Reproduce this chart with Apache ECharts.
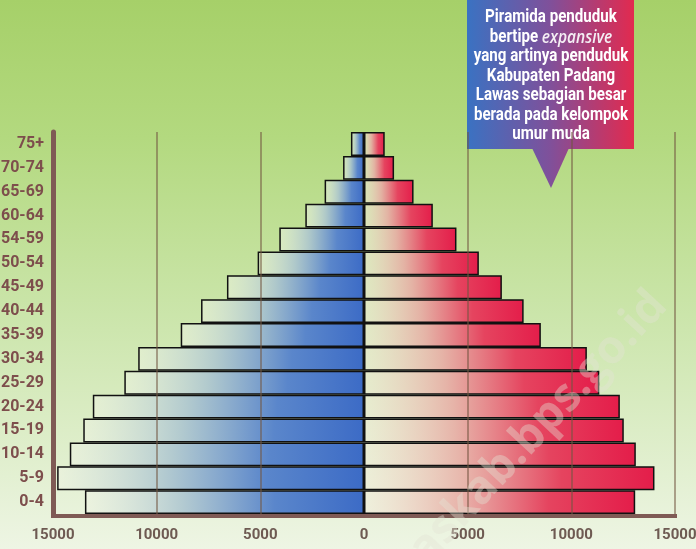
<!DOCTYPE html>
<html>
<head>
<meta charset="utf-8">
<script src="https://cdn.jsdelivr.net/npm/echarts@6/dist/echarts.min.js"></script>
<style>
html,body{margin:0;padding:0;}
#c{width:696px;height:549px;}
</style>
</head>
<body>
<div id="c"></div>
<script>
var ageGroups = ['0-4','5-9','10-14','15-19','20-24','25-29','30-34','35-39','40-44','45-49','50-54','54-59','60-64','65-69','70-74','75+'];
var maleValues = [13460, 14800, 14190, 13540, 13080, 11560, 10890, 8840, 7860, 6610, 5130, 4085, 2830, 1900, 1010, 630];
var femaleValues = [13080, 14010, 13110, 12530, 12340, 11350, 10750, 8530, 7700, 6650, 5540, 4460, 3320, 2390, 1450, 1000];
var axisMin = -15000, axisMax = 15000, axisStep = 5000;
var calloutLines = ['Piramida penduduk', 'bertipe {i|expansive}', 'yang artinya penduduk', 'Kabupaten Padang', 'Lawas sebagian besar', 'berada pada kelompok', 'umur muda'];
var watermark = 'padanglawaskab.bps.go.id';

var labelFont = "Roboto, 'Noto Sans', sans-serif";
var chart = echarts.init(document.getElementById('c'), null, {renderer: 'canvas'});

var G = echarts.graphic;
var maleGrad = new G.LinearGradient(0, 0, 1, 0, [
  {offset: 0, color: 'rgba(240,244,228,0.5)'},
  {offset: 0.35, color: 'rgba(172,197,208,0.88)'},
  {offset: 0.68, color: '#5a86cb'},
  {offset: 1, color: '#3c6bc6'}
]);
var femaleGrad = new G.LinearGradient(0, 0, 1, 0, [
  {offset: 0, color: 'rgba(245,238,222,0.5)'},
  {offset: 0.35, color: 'rgba(232,172,165,0.88)'},
  {offset: 0.68, color: '#e5445f'},
  {offset: 1, color: '#e41d4a'}
]);
var calloutGrad = new G.LinearGradient(467, 0, 634, 0, [
  {offset: 0, color: '#3a72c2'},
  {offset: 0.5, color: '#80509a'},
  {offset: 1, color: '#e22a4f'}
], true);

var splitColors = [];
for (var v = axisMin; v <= axisMax; v += axisStep) {
  splitColors.push(v === 0 || v === axisMin ? 'rgba(0,0,0,0)' : 'rgba(115,85,65,0.7)');
}

chart.setOption({
  animation: false,
  backgroundColor: new G.LinearGradient(0, 0, 0, 1, [
    {offset: 0, color: '#a6d069'},
    {offset: 0.25, color: '#b3d97f'},
    {offset: 0.6, color: '#cde6ae'},
    {offset: 1, color: '#eef5e4'}
  ]),
  grid: {left: 53, right: 21, top: 132, bottom: 35, containLabel: false, outerBoundsMode: 'none'},
  xAxis: {
    type: 'value', min: axisMin, max: axisMax, interval: axisStep,
    z: 3, offset: 2,
    axisLine: {show: true, onZero: false, lineStyle: {color: '#7f5a55', width: 4, cap: 'square'}},
    axisTick: {show: false},
    splitLine: {show: true, lineStyle: {color: splitColors, width: 1.5}},
    axisLabel: {
      margin: 12, hideOverlap: false,
      fontFamily: labelFont, fontSize: 15, fontWeight: 'bold',
      formatter: function (val) { return String(Math.abs(val)); },
      color: function (val) { return val === -10000 ? '#b04c33' : '#6e5a52'; }
    }
  },
  yAxis: {
    type: 'category', data: ageGroups, z: 3,
    axisLine: {show: true, onZero: false, lineStyle: {color: '#7f5a55', width: 5}},
    axisTick: {show: false},
    splitLine: {show: false},
    axisLabel: {margin: 9, fontFamily: labelFont, fontSize: 16, fontWeight: 'bold', color: '#7d4e4c'}
  },
  series: [
    {
      name: 'Laki-laki', type: 'bar', stack: 'pop',
      barCategoryGap: '0%',
      data: maleValues.map(function (d) { return -d; }),
      itemStyle: {color: maleGrad, borderColor: '#111', borderWidth: 1.5}
    },
    {
      name: 'Perempuan', type: 'bar', stack: 'pop',
      barCategoryGap: '0%',
      data: femaleValues,
      itemStyle: {color: femaleGrad, borderColor: '#111', borderWidth: 1.5}
    }
  ],
  graphic: [
    {
      type: 'text', silent: true, z: 10,
      x: 676, y: 314, rotation: 47 * Math.PI / 180,
      style: {
        text: watermark, align: 'right', verticalAlign: 'bottom',
        font: "bold 46px 'Open Sans', sans-serif",
        fill: 'rgba(228,228,212,0.4)'
      }
    },
    {
      type: 'group', z: 20,
      children: [
        {type: 'rect', shape: {x: 467, y: -2, width: 167, height: 151}, style: {fill: calloutGrad}},
        {type: 'polygon', shape: {points: [[532, 148], [569, 148], [551, 188]]}, style: {fill: calloutGrad}},
        {
          type: 'text', x: 551, y: 8, scaleX: 0.84,
          style: {
            text: calloutLines.join('\n'),
            align: 'center', verticalAlign: 'top',
            fill: '#ffffff',
            font: "bold 18px " + labelFont,
            lineHeight: 19.5,
            rich: {
              i: {font: "italic 600 18.5px 'Open Sans', sans-serif", fill: '#f4eef4', lineHeight: 19.5}
            }
          }
        }
      ]
    }
  ]
});
</script>
</body>
</html>
